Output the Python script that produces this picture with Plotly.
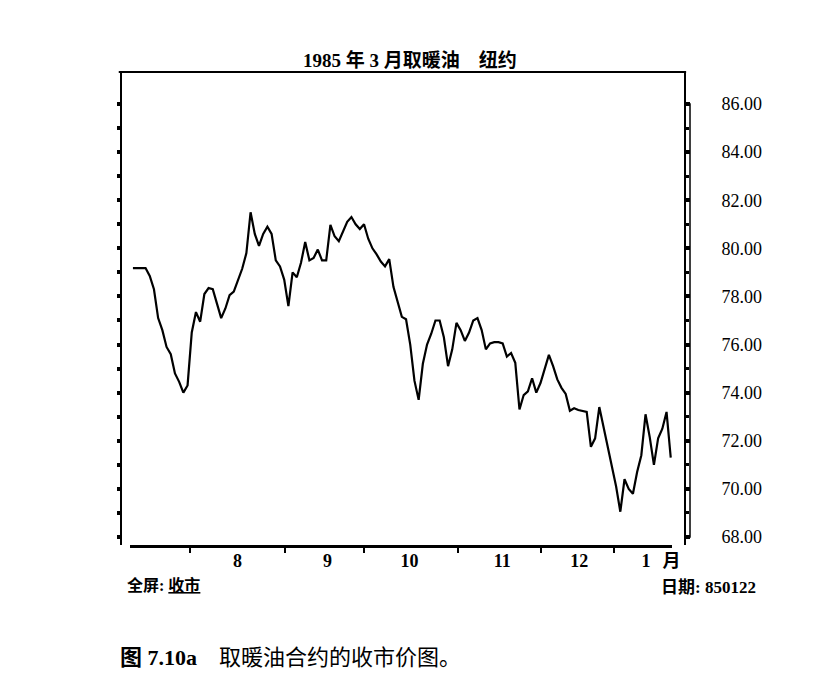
import plotly.graph_objects as go

# daily closes, March 1985 heating oil (NY), one value per trading session
closes = [
    79.18, 79.18, 79.18, 79.18, 78.85, 78.30, 77.10, 76.60, 75.90, 75.60,
    74.80, 74.45, 74.00, 74.30, 76.50, 77.35, 76.95, 78.10, 78.35, 78.30,
    77.70, 77.10, 77.50, 78.05, 78.20, 78.70, 79.15, 79.80, 81.50, 80.60,
    80.10, 80.60, 80.90, 80.60, 79.50, 79.25, 78.70, 77.60, 79.00, 78.80,
    79.40, 80.26, 79.50, 79.60, 79.95, 79.50, 79.50, 80.97, 80.50, 80.30,
    80.70, 81.10, 81.30, 81.00, 80.80, 81.00, 80.40, 80.00, 79.75, 79.45,
    79.25, 79.55, 78.40, 77.80, 77.15, 77.05, 76.00, 74.50, 73.70, 75.20,
    76.00, 76.45, 77.00, 77.00, 76.30, 75.10, 75.80, 76.90, 76.60, 76.15,
    76.50, 77.00, 77.10, 76.60, 75.80, 76.05, 76.10, 76.10, 76.05, 75.50,
    75.65, 75.24, 73.30, 73.90, 74.05, 74.60, 74.00, 74.40, 75.00, 75.57,
    75.10, 74.55, 74.20, 73.95, 73.25, 73.35, 73.28, 73.25, 73.20, 71.75,
    72.10, 73.40, 72.60, 71.80, 71.00, 70.10, 69.05, 70.40, 70.00, 69.80,
    70.70, 71.40, 73.10, 72.15, 71.00, 72.10, 72.50, 73.20, 71.30,
]
sessions = list(range(len(closes)))

# month boundaries (session numbers) and month label positions
month_edges = [13.5, 36.3, 55.1, 77.4, 97.1, 114.5]
month_mids = [24.9, 46.3, 65.8, 87.9, 106.2, 122.1, 128.2]
month_labels = ["8", "9", "10", "11", "12", "1", "月"]

price_ticks = [68, 70, 72, 74, 76, 78, 80, 82, 84, 86]
price_minor = [69, 71, 73, 75, 77, 79, 81, 83, 85]
all_ticks = list(range(68, 87))

serif = "Liberation Serif, Noto Sans CJK SC"

# page body has an 8px margin, so everything is laid out 8px up/left
fig = go.Figure()
fig.add_trace(go.Scatter(
    x=sessions, y=closes, mode="lines",
    line=dict(color="black", width=2.2),
    showlegend=False, hoverinfo="skip",
))
fig.add_trace(go.Scatter(x=[], y=[], yaxis="y2", showlegend=False))

fig.update_layout(
    width=820, height=687,
    paper_bgcolor="white", plot_bgcolor="white",
    margin=dict(l=113, r=143, t=64, b=150),
    title=dict(
        text="<b>1985 年 3 月取暖油    纽约</b>",
        x=(410 - 8) / 820, xanchor="center", y=1 - 52 / 687, yanchor="middle",
        font=dict(family=serif, size=19, color="black"),
    ),
    xaxis=dict(
        domain=[9 / 564, 551 / 564], range=[-0.7, 128.3],
        showgrid=False, zeroline=False,
        showline=True, linecolor="black", linewidth=3,
        tickvals=month_mids, ticktext=month_labels, ticks="",
        tickfont=dict(family=serif, size=18, color="black", weight="bold"),
        ticklabelstandoff=-3,
        minor=dict(tickvals=month_edges, ticks="outside", ticklen=5,
                   tickwidth=1.5, tickcolor="black", showgrid=False),
        anchor="y",
    ),
    yaxis=dict(
        range=[67.667, 87.33], anchor="free", position=0,
        showgrid=False, zeroline=False,
        showline=True, linecolor="black", linewidth=2,
        tickvals=all_ticks, showticklabels=False,
        ticks="outside", ticklen=3, tickwidth=4, tickcolor="black",
    ),
    yaxis2=dict(
        range=[67.667, 87.33], anchor="free", position=1,
        overlaying="y", side="right",
        showgrid=False, zeroline=False,
        showline=True, linecolor="black", linewidth=2,
        tickvals=price_ticks, ticktext=[f"{v:.2f}" for v in price_ticks],
        ticks="outside", ticklen=4, tickwidth=4, tickcolor="black",
        tickfont=dict(family=serif, size=18, color="black"),
        ticklabelstandoff=28,
        minor=dict(tickvals=price_minor, ticks="outside", ticklen=3,
                   tickwidth=3, tickcolor="black", showgrid=False),
    ),
    shapes=[
        dict(type="line", xref="paper", yref="paper", x0=-0.004, x1=1.002,
             y0=1, y1=1, line=dict(color="black", width=2)),
        dict(type="rect", xref="paper", yref="y", x0=1, x1=1 + 5 / 564,
             y0=68, y1=86, line=dict(color="black", width=1.5)),
    ],
    annotations=[
        dict(text="<b>全屏: <u>收市</u></b>", xref="paper", yref="paper",
             x=(125 - 121) / 564, y=(545 - 585) / 473, xanchor="left",
             yanchor="middle", showarrow=False,
             font=dict(family=serif, size=16, color="black")),
        dict(text="<b>日期: 850122</b>", xref="paper", yref="paper",
             x=(758 - 121) / 564, y=(545 - 587) / 473, xanchor="right",
             yanchor="middle", showarrow=False,
             font=dict(family=serif, size=17, color="black")),
        dict(text="<b>图 7.10a</b>    取暖油合约的收市价图。", xref="paper",
             yref="paper", x=(118 - 121) / 564, y=(545 - 657) / 473,
             xanchor="left", yanchor="middle", showarrow=False,
             font=dict(family=serif, size=22, color="black")),
    ],
)

fig.write_html("out.html")
